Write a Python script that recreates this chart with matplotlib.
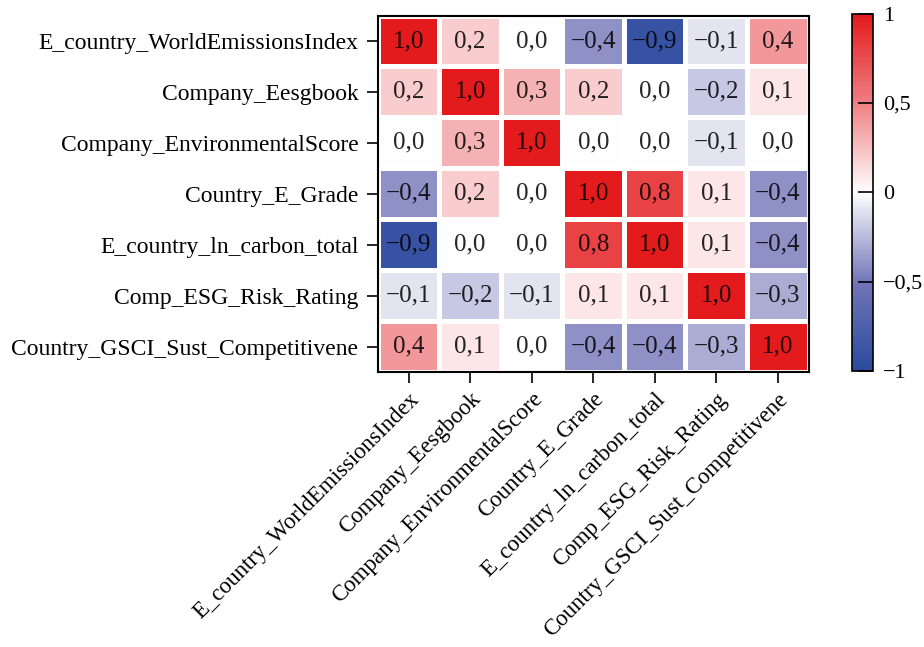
# Correlation heatmap of ESG / emissions indicators

import matplotlib.pyplot as plt
import numpy as np
from matplotlib.colors import LinearSegmentedColormap
from matplotlib.ticker import FuncFormatter

plt.rcParams['font.family'] = ['Liberation Serif', 'DejaVu Serif']

variables = [
    'E_country_WorldEmissionsIndex',
    'Company_Eesgbook',
    'Company_EnvironmentalScore',
    'Country_E_Grade',
    'E_country_ln_carbon_total',
    'Comp_ESG_Risk_Rating',
    'Country_GSCI_Sust_Competitivene',
]

corr = np.array([
    [1.0, 0.2, 0.0, -0.4, -0.9, -0.1, 0.4],
    [0.2, 1.0, 0.3, 0.2, 0.0, -0.2, 0.1],
    [0.0, 0.3, 1.0, 0.0, 0.0, -0.1, 0.0],
    [-0.4, 0.2, 0.0, 1.0, 0.8, 0.1, -0.4],
    [-0.9, 0.0, 0.0, 0.8, 1.0, 0.1, -0.4],
    [-0.1, -0.2, -0.1, 0.1, 0.1, 1.0, -0.3],
    [0.4, 0.1, 0.0, -0.4, -0.4, -0.3, 1.0],
])

cbar_ticks = [-1, -0.5, 0, 0.5, 1]

# синий -> белый -> красный
cmap = LinearSegmentedColormap.from_list(
    'bwr_soft',
    [(0.0, '#2a4a9e'), (0.25, '#7376b8'), (0.5, '#ffffff'),
     (0.75, '#ef7f83'), (1.0, '#e31b1c')],
)


def comma(v):
    s = f'{v:.1f}'.replace('.', ',')
    return s.replace('-', '\u2212')


fig = plt.figure(figsize=(9.24, 6.47), dpi=100)
ax = fig.add_axes([0.409, 0.425, 0.466, 0.551])

n = len(variables)
mesh = ax.pcolormesh(corr, cmap=cmap, vmin=-1, vmax=1,
                     edgecolors='white', linewidth=2.5)
ax.set_xlim(0, n)
ax.set_ylim(n, 0)

for i in range(n):
    for j in range(n):
        ax.text(j + 0.5, i + 0.5, comma(corr[i, j]), ha='center', va='center',
                fontsize=18, color='black', alpha=0.85)

ax.set_xticks(np.arange(n) + 0.5)
ax.set_yticks(np.arange(n) + 0.5)
ax.set_xticklabels(variables, rotation=45, ha='right', rotation_mode='anchor',
                   fontsize=16.5)
ax.set_yticklabels(variables, fontsize=17)
ax.tick_params(length=8, width=1.2, pad=6)
ax.tick_params(axis='x', pad=4)
for sp in ax.spines.values():
    sp.set_linewidth(1.5)

# шкала цветов
cax = fig.add_axes([0.922, 0.426, 0.023, 0.553])
cb = fig.colorbar(mesh, cax=cax, ticks=cbar_ticks)
cb.ax.yaxis.set_major_formatter(FuncFormatter(
    lambda v, p: ('\u2212' if v < 0 else '') + f'{abs(v):g}'.replace('.', ',')))
cb.ax.tick_params(labelsize=16, length=11, width=1.2, pad=7, direction='in')
cb.outline.set_linewidth(1.2)

fig.savefig('out.png', dpi=100)
